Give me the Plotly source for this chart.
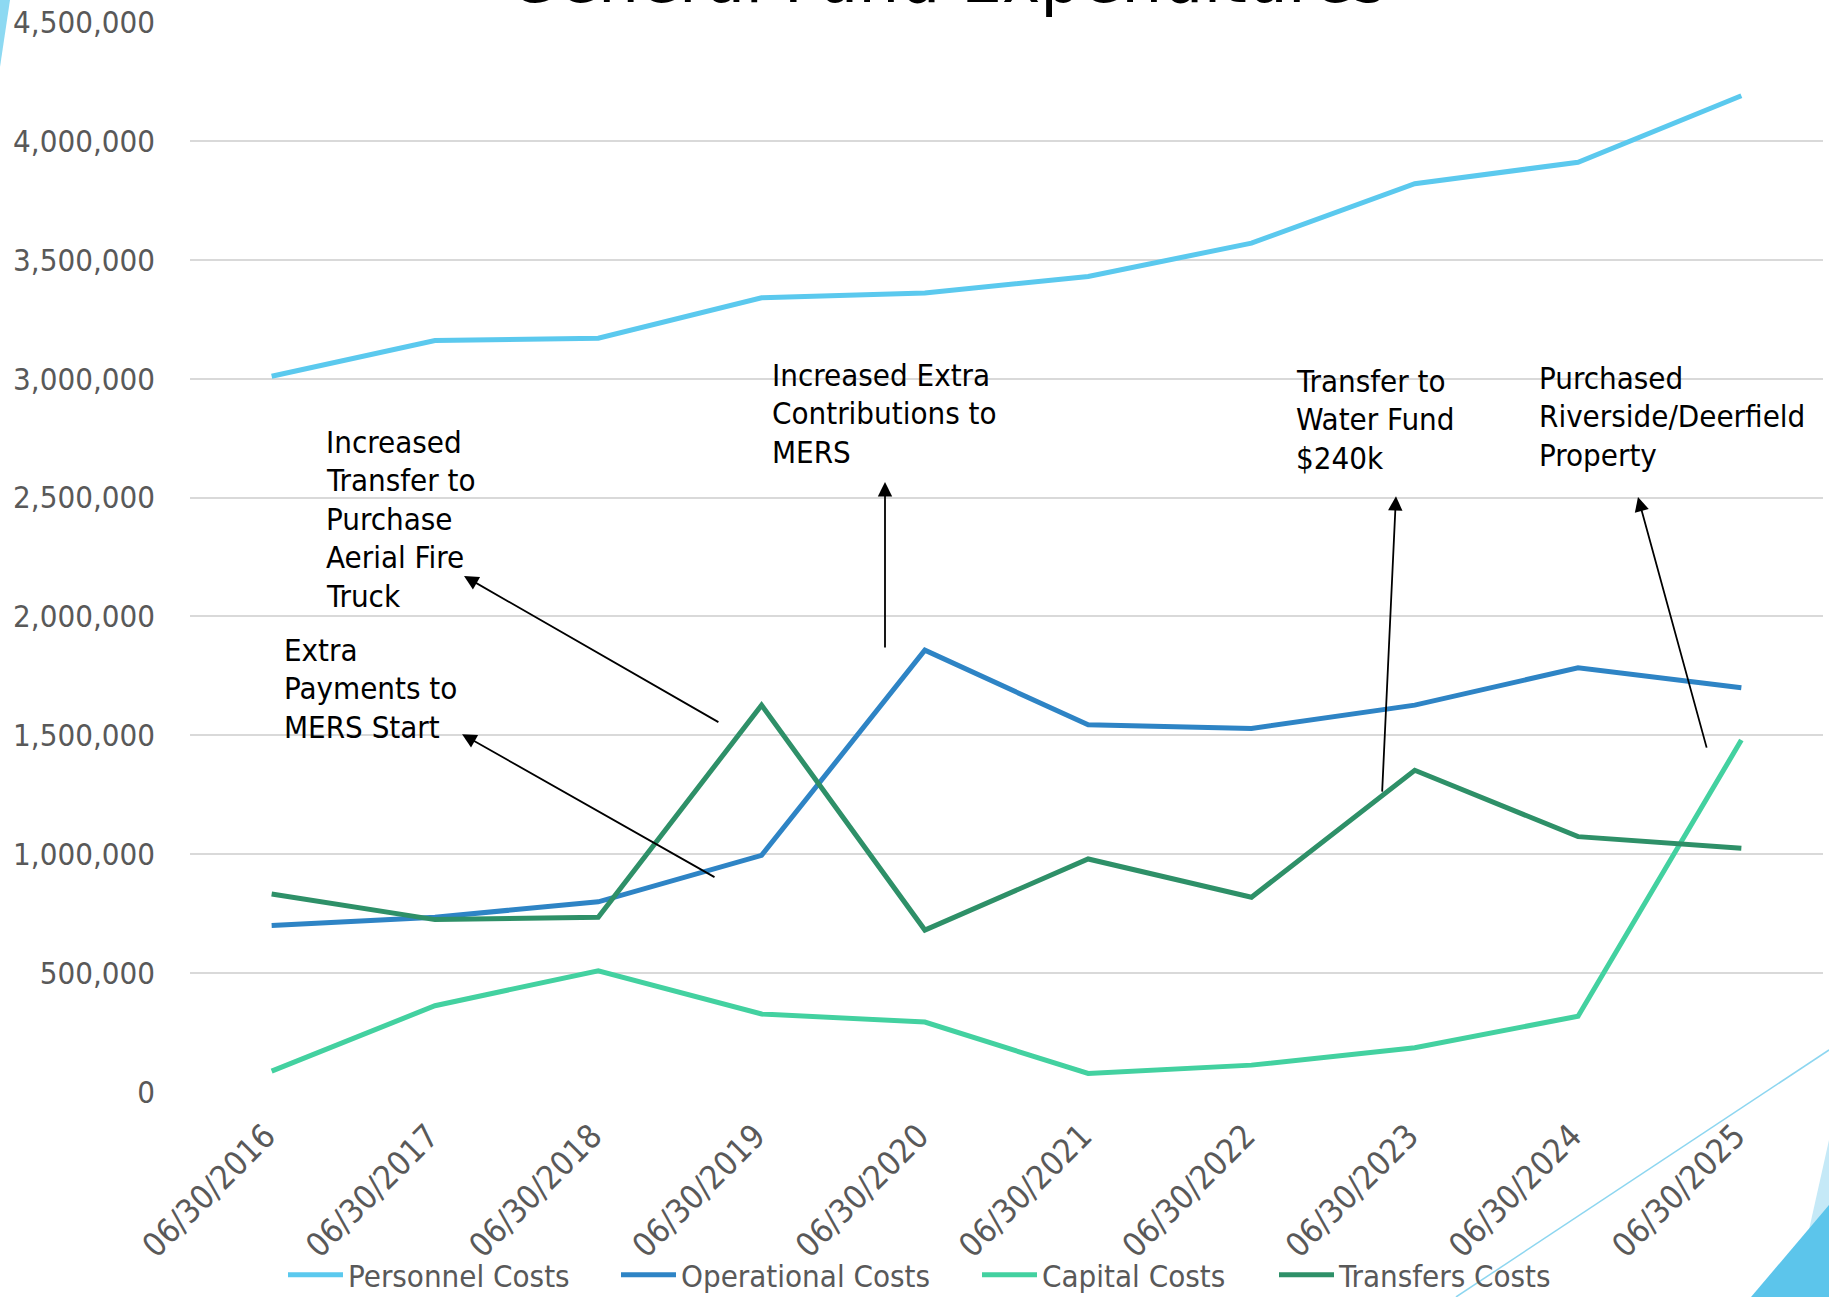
import plotly.graph_objects as go

categories = ["06/30/2016", "06/30/2017", "06/30/2018", "06/30/2019", "06/30/2020",
              "06/30/2021", "06/30/2022", "06/30/2023", "06/30/2024", "06/30/2025"]
personnel = [3010000, 3160000, 3170000, 3340000, 3360000, 3430000, 3570000, 3820000, 3910000, 4190000]
operational = [700000, 735000, 800000, 995000, 1858000, 1544000, 1529000, 1627000, 1784000, 1700000]
capital = [88000, 363000, 510000, 328000, 294000, 78000, 113000, 186000, 319000, 1480000]
transfers = [833000, 725000, 735000, 1627000, 681000, 980000, 819000, 1353000, 1074000, 1025000]

series_names = ["Personnel Costs", "Operational Costs", "Capital Costs", "Transfers Costs"]
series_values = [personnel, operational, capital, transfers]
series_colors = ["#5BC9EE", "#2E84C5", "#43D1A0", "#2E9068"]
legend_ids = ["legend", "legend2", "legend3", "legend4"]
legend_left_px = [289, 622, 983, 1280]

FONT = "DejaVu Sans Condensed, Liberation Sans Narrow, DejaVu Sans, sans-serif"

W, H = 1829, 1297
L, R, T, B = 190, 6, 22, 205
LINE_STEP = 38.5 / (H - T - B) * 4500000  # annotation line spacing in data units


def px(x):
    return (x - L) / (W - L - R)


def py(y):
    return (H - B - y) / (H - T - B)


fig = go.Figure()
for name, vals, col, lg in zip(series_names, series_values, series_colors, legend_ids):
    fig.add_trace(go.Scatter(x=categories, y=vals, name=name, mode="lines", legend=lg,
                             line=dict(color=col, width=5)))

# annotations: (lines, text_x_idx, text_y_center, head_x, head_y, tail_x, tail_y)
notes = [
    (["Increased", "Transfer to", "Purchase", "Aerial Fire", "Truck"], 0.321, 2410000, 1.178, 2170000, 2.745, 1552000),
    (["Extra", "Payments to", "MERS Start"], 0.063, 1699000, 1.166, 1505000, 2.721, 900000),
    (["Increased Extra", "Contributions to", "MERS"], 3.052, 2855000, 3.756, 2565000, 3.756, 1863000),
    (["Transfer to", "Water Fund", "$240k"], 6.261, 2830000, 6.885, 2506000, 6.800, 1257000),
    (["Purchased", "Riverside/Deerfield", "Property"], 7.749, 2843000, 8.367, 2502000, 8.790, 1442000),
]
anns = []
for lines, tx, ty, hx, hy, sx, sy in notes:
    n = len(lines)
    for k, line in enumerate(lines):
        anns.append(dict(x=tx, y=ty + ((n - 1) / 2 - k) * LINE_STEP, xref="x", yref="y", text=line,
                         showarrow=False, xanchor="left", yanchor="middle", align="left",
                         font=dict(family=FONT, size=31, color="#000000")))
    anns.append(dict(x=hx, y=hy, ax=sx, ay=sy, xref="x", yref="y", axref="x", ayref="y",
                     text="", showarrow=True, arrowhead=2, arrowsize=1.6, arrowwidth=1.8,
                     arrowcolor="#000000"))

# title (mostly cut off at the top)
anns.append(dict(x=px(947), y=py(21), xref="paper", yref="paper",
                 text="General Fund Expenditures", showarrow=False, xanchor="center", yanchor="bottom",
                 font=dict(family=FONT, size=72, color="#000000")))

shapes = [
    dict(type="path", xref="paper", yref="paper", layer="below",
         path=f"M {px(0)} {py(0)} L {px(10)} {py(0)} L {px(0)} {py(67)} Z",
         fillcolor="#8DD9F2", line=dict(width=0)),
    dict(type="line", xref="paper", yref="paper", layer="below",
         x0=px(1456), y0=py(1297), x1=px(1829), y1=py(1050),
         line=dict(color="#8DD6F0", width=1.5)),
    dict(type="path", xref="paper", yref="paper", layer="below",
         path=f"M {px(1794)} {py(1297)} L {px(1829)} {py(1140)} L {px(1829)} {py(1297)} Z",
         fillcolor="#C5E9F7", line=dict(width=0)),
    dict(type="path", xref="paper", yref="paper", layer="below",
         path=f"M {px(1751)} {py(1297)} L {px(1829)} {py(1205)} L {px(1829)} {py(1297)} Z",
         fillcolor="#5CC5EB", line=dict(width=0)),
]

legend_common = dict(orientation="h", xanchor="left", y=py(1275), yanchor="middle",
                     font=dict(family=FONT, size=31, color="#595959"), bgcolor="rgba(0,0,0,0)",
                     itemwidth=55, borderwidth=0)
layout_legends = {}
for lg, lx in zip(legend_ids, legend_left_px):
    layout_legends[lg] = dict(legend_common, x=px(lx - 6))

fig.update_layout(
    width=W, height=H,
    margin=dict(l=L, r=R, t=T, b=B, autoexpand=False),
    plot_bgcolor="white", paper_bgcolor="white",
    font=dict(family=FONT, size=30, color="#595959"),
    showlegend=True,
    annotations=anns,
    shapes=shapes,
    **layout_legends,
)
fig.update_xaxes(type="category", range=[-0.5, 9.5], showgrid=False, showline=False, zeroline=False,
                 tickangle=-45, ticks="", ticklabelstandoff=17, ticklabelshift=-6, automargin=False,
                 tickfont=dict(family=FONT, size=33, color="#595959"))
fig.update_yaxes(range=[0, 4500000], dtick=500000, tickformat=",", showgrid=True,
                 gridcolor="#D9D9D9", gridwidth=1.5, zeroline=False, showline=False,
                 ticks="", ticklabelstandoff=34, automargin=False,
                 tickfont=dict(family=FONT, size=31, color="#595959"))

fig.write_html("out.html", config={"displayModeBar": False},
               post_script="document.body.style.margin='0';document.body.style.overflow='hidden';")
